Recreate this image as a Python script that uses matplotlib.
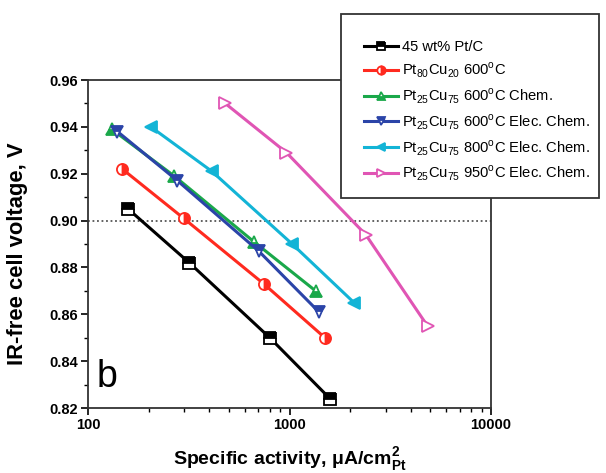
import matplotlib
matplotlib.use("Agg")
import matplotlib.pyplot as plt
from matplotlib.patches import Rectangle
from matplotlib.ticker import MultipleLocator, LogLocator, NullFormatter, FixedLocator, FixedFormatter

plt.rcParams['font.family'] = ['Liberation Sans', 'DejaVu Sans']
plt.rcParams['mathtext.fontset'] = 'custom'
plt.rcParams['mathtext.rm'] = 'Liberation Sans'
plt.rcParams['mathtext.bf'] = 'Liberation Sans:bold'

# Specific activity (uA/cm2 Pt) and IR-free cell voltage (V) for each catalyst
ptc_x = [158, 318, 798, 1588]
ptc_y = [0.905, 0.882, 0.850, 0.824]

pt80_x = [148, 298, 745, 1498]
pt80_y = [0.922, 0.901, 0.873, 0.850]

chem600_x = [131, 268, 665, 1347]
chem600_y = [0.939, 0.919, 0.891, 0.870]

elec600_x = [140, 278, 703, 1399]
elec600_y = [0.938, 0.917, 0.887, 0.861]

elec800_x = [205, 412, 1031, 2089]
elec800_y = [0.940, 0.921, 0.890, 0.865]

elec950_x = [480, 966, 2389, 4842]
elec950_y = [0.950, 0.929, 0.894, 0.855]

labels = [
    "45 wt% Pt/C",
    r"Pt$_{\mathrm{80}}$Cu$_{\mathrm{20}}$ 600$^{\mathrm{o}}$C",
    r"Pt$_{\mathrm{25}}$Cu$_{\mathrm{75}}$ 600$^{\mathrm{o}}$C Chem.",
    r"Pt$_{\mathrm{25}}$Cu$_{\mathrm{75}}$ 600$^{\mathrm{o}}$C Elec. Chem.",
    r"Pt$_{\mathrm{25}}$Cu$_{\mathrm{75}}$ 800$^{\mathrm{o}}$C Elec. Chem.",
    r"Pt$_{\mathrm{25}}$Cu$_{\mathrm{75}}$ 950$^{\mathrm{o}}$C Elec. Chem.",
]

y_ticks = [0.82, 0.84, 0.86, 0.88, 0.90, 0.92, 0.94, 0.96]
x_ticks = [100, 1000, 10000]

fig = plt.figure(figsize=(6.06, 4.73), dpi=100)
ax = fig.add_axes([88 / 606, 1 - 408 / 473, (491 - 88) / 606, (408 - 80) / 473])

series = [
    (ptc_x, ptc_y, 'black', dict(marker='s', fillstyle='top', markerfacecoloralt='white')),
    (pt80_x, pt80_y, '#ff2a1f', dict(marker='o', fillstyle='right', markerfacecoloralt='white')),
    (chem600_x, chem600_y, '#1aa84a', dict(marker='^', fillstyle='bottom', markerfacecoloralt='white')),
    (elec600_x, elec600_y, '#2b44a8', dict(marker='v', fillstyle='top', markerfacecoloralt='white')),
    (elec800_x, elec800_y, '#13b4d6', dict(marker='<', fillstyle='full')),
    (elec950_x, elec950_y, '#e055b4', dict(marker='>', markerfacecolor='white')),
]

handles = []
for (xs, ys, c, mk), lab in zip(series, labels):
    h, = ax.plot(xs, ys, color=c, lw=2.2, markersize=8, markeredgewidth=1.3,
                 markeredgecolor=c, label=lab, **mk)
    handles.append(h)

ax.axhline(0.90, color='#555555', lw=1.3, ls=(0, (1, 1.5)), zorder=0)

ax.set_xscale('log')
ax.set_xlim(100, 10000)
ax.set_ylim(0.82, 0.96)
ax.xaxis.set_major_locator(FixedLocator(x_ticks))
ax.xaxis.set_major_formatter(FixedFormatter([str(v) for v in x_ticks]))
ax.xaxis.set_minor_locator(LogLocator(base=10, subs=range(2, 10)))
ax.xaxis.set_minor_formatter(NullFormatter())
ax.yaxis.set_major_locator(FixedLocator(y_ticks))
ax.yaxis.set_major_formatter(FixedFormatter([f"{v:.2f}" for v in y_ticks]))
ax.yaxis.set_minor_locator(MultipleLocator(0.01))

for s in ax.spines.values():
    s.set_linewidth(1.3)
    s.set_color('#333333')
ax.tick_params(which='major', direction='out', length=5, width=1.2, labelsize=10.5, pad=2)
ax.tick_params(which='minor', direction='out', length=3, width=1.0)
for t in ax.get_xticklabels() + ax.get_yticklabels():
    t.set_fontweight('bold')

ax.set_xlabel(r"Specific activity, $\mathbf{\mu}$A/cm$^{\mathbf{2}}_{\mathbf{Pt}}$",
              fontsize=14, fontweight='bold', labelpad=10)
ax.set_ylabel("IR-free cell voltage, V", fontsize=15.8, fontweight='bold')
ax.yaxis.set_label_coords(-0.148, 0.47)

ax.text(0.022, 0.064, "b", transform=ax.transAxes, fontsize=27, ha='left', va='baseline')

# Legend box spanning over the top-right corner of the plot area
box = Rectangle((341 / 606, 1 - 198 / 473), (599 - 341) / 606, (198 - 14) / 473,
                transform=fig.transFigure, facecolor='white', edgecolor='#333333',
                lw=1.3, zorder=5)
fig.patches.append(box)
leg = fig.legend(handles=handles, loc='upper left',
                 bbox_to_anchor=(364 / 606, 1 - 40 / 473), frameon=False,
                 fontsize=10.6, handlelength=2.3, handletextpad=0.3,
                 labelspacing=0.44, borderaxespad=0, borderpad=0)
leg.set_zorder(6)
for lh in leg.legend_handles:
    lh.set_markersize(6)

fig.savefig("out.png", dpi=100)
